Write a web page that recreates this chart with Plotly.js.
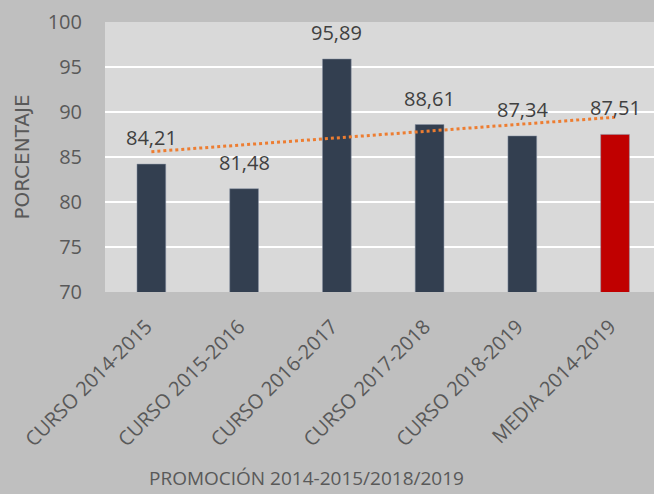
<!DOCTYPE html>
<html><head><meta charset="utf-8">
<script src="https://cdn.plot.ly/plotly-3.0.1.min.js"></script>
<style>html,body{margin:0;padding:0;background:#bfbfbf;overflow:hidden}</style>
</head><body>
<div id="chart" style="width:654px;height:494px"></div>
<script>
const categories = ["CURSO 2014-2015","CURSO 2015-2016","CURSO 2016-2017","CURSO 2017-2018","CURSO 2018-2019","MEDIA 2014-2019"];
const values = [84.21, 81.48, 95.89, 88.61, 87.34, 87.51];
const valueLabels = ["84,21","81,48","95,89","88,61","87,34","87,51"];
const barColors = ["#333f50","#333f50","#333f50","#333f50","#333f50","#c00000"];

// linear trend fitted over all values (Excel-style linear trendline)
const n = values.length;
const xs = values.map((_, i) => i + 1);
const mx = xs.reduce((a,b)=>a+b,0)/n;
const my = values.reduce((a,b)=>a+b,0)/n;
let sxy = 0, sxx = 0;
for (let i = 0; i < n; i++) { sxy += (xs[i]-mx)*(values[i]-my); sxx += (xs[i]-mx)**2; }
const slope = sxy/sxx, icpt = my - slope*mx;
const trend = xs.map(x => icpt + slope*x);

const font = "Open Sans, sans-serif";
const data = [
  {type:"bar", x:[0,1,2,3,4,5], y:values, width:0.31,
   marker:{color:barColors, line:{color:"#8a94a6", width:0.5}}, hoverinfo:"none"},
  {type:"scatter", mode:"lines", x:[0,1,2,3,4,5], y:trend,
   line:{color:"#ed7d31", width:3, dash:"dot"}, hoverinfo:"none"}
];
const annotations = values.map((v,i)=>({x:i, y:v, xref:"x", yref:"y", text:valueLabels[i],
  showarrow:false, yanchor:"bottom", yshift:11, font:{family:font, size:20, color:"#404040"}}));
annotations.push({x:(306-104.6)/(654-104.6), y:-(478-292)/270, xref:"paper", yref:"paper",
  text:"PROMOCIÓN 2014-2015/2018/2019",
  showarrow:false, xanchor:"center", yanchor:"middle", font:{family:font, size:19, color:"#595959"}});

const layout = {
  width:654, height:494,
  margin:{l:104.6, r:0, t:22, b:202, pad:0},
  paper_bgcolor:"#bfbfbf", plot_bgcolor:"#d9d9d9",
  showlegend:false,
  font:{family:font, color:"#595959"},
  xaxis:{range:[-0.5, 5.42], tickmode:"array", tickvals:[0,1,2,3,4,5], ticktext:categories,
    tickangle:-45, tickfont:{family:font, size:20, color:"#595959"}, showgrid:false,
    zeroline:false, showline:false, ticks:"", fixedrange:true,
    ticklabelstandoff:18, ticklabelshift:-5},
  yaxis:{range:[70,100], dtick:5, tick0:70, gridcolor:"#ffffff", gridwidth:2,
    tickfont:{family:font, size:20, color:"#595959"}, zeroline:false, showline:false,
    ticks:"", ticklabelstandoff:22,
    title:{text:"PORCENTAJE", font:{family:"DejaVu Sans, sans-serif", size:20, color:"#595959"}, standoff:12}},
  annotations:annotations
};
Plotly.newPlot("chart", data, layout, {displayModeBar:false, staticPlot:true});
</script>
</body></html>
